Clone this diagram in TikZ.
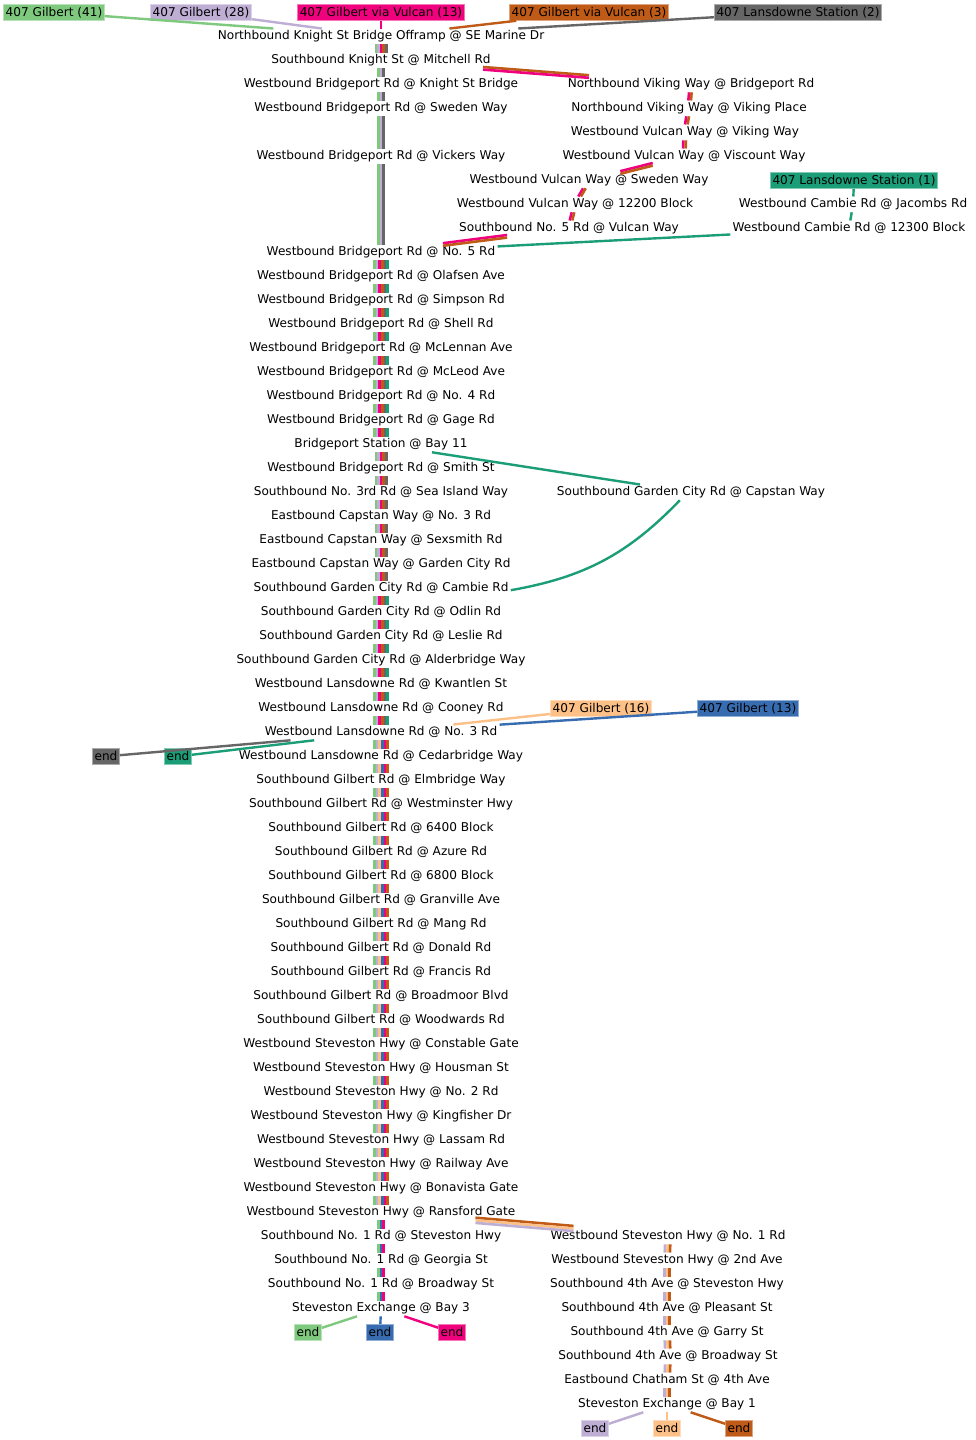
\documentclass[tikz,border=0pt]{standalone}
\usepackage{fontspec}
\setmainfont{DejaVu Sans}
\usepackage{xcolor}
\usepackage{tikz}

\definecolor{gil41}{HTML}{7FC97F}
\definecolor{gil28}{HTML}{BEAED4}
\definecolor{gil16}{HTML}{FDC086}
\definecolor{gil13}{HTML}{386CB0}
\definecolor{vul13}{HTML}{F0027F}
\definecolor{vul3}{HTML}{BF5B17}
\definecolor{lan2}{HTML}{666666}
\definecolor{lan1}{HTML}{1B9E77}

% parallel lines of one bundle, colours given left to right
\newcommand\vbundle[3]{%
  \foreach \c [count=\n] in {#3} {\xdef\bundlen{\n}}%
  \foreach \c [count=\i] in {#3} {%
    \pgfmathsetmacro\off{(\i-(\bundlen+1)/2)*1.3}%
    \draw[bd, color=\c, transform canvas={xshift=\off pt}] (#1) -- (#2);}%
}
% same, colours given top to bottom
\newcommand\hbundle[3]{%
  \foreach \c [count=\n] in {#3} {\xdef\bundlen{\n}}%
  \foreach \c [count=\i] in {#3} {%
    \pgfmathsetmacro\off{((\bundlen+1)/2-\i)*1.3}%
    \draw[bd, color=\c, transform canvas={yshift=\off pt}] (#1) -- (#2);}%
}

\begin{document}
\begin{tikzpicture}[
  x=0.5pt, y=-0.5pt,
  font=\fontsize{6.05pt}{7pt}\selectfont,
  st/.style={inner xsep=1pt, inner ysep=0pt, minimum height=7.5pt, yshift=-0.7pt},
  rt/.style={fill=#1, draw=#1!55, line width=0.4pt, inner xsep=1pt, inner ysep=0pt, minimum height=8pt, yshift=-0.7pt},
  ln/.style={line width=1.2pt},
  bd/.style={line width=1.3pt}
]
  \path[fill=white] (0,0) rectangle (975,1440);

  % route starts
  \node[rt=gil41] (g41) at (54,11) {407 Gilbert (41)};
  \node[rt=gil28] (g28) at (201,11) {407 Gilbert (28)};
  \node[rt=vul13] (v13) at (381,11) {407 Gilbert via Vulcan (13)};
  \node[rt=vul3] (v3) at (589,11) {407 Gilbert via Vulcan (3)};
  \node[rt=lan2] (l2) at (798,11) {407 Lansdowne Station (2)};
  \node[rt=lan1] (l1) at (854,179) {407 Lansdowne Station (1)};
  \node[rt=gil16] (g16) at (601,707) {407 Gilbert (16)};
  \node[rt=gil13] (g13) at (748,707) {407 Gilbert (13)};

  % main column
  \node[st] (offramp) at (381,35) {Northbound Knight St Bridge Offramp @ SE Marine Dr};
  \node[st] (mitchell) at (381,59) {Southbound Knight St @ Mitchell Rd};
  \node[st] (knightbr) at (381,83) {Westbound Bridgeport Rd @ Knight St Bridge};
  \node[st] (sweden) at (381,107) {Westbound Bridgeport Rd @ Sweden Way};
  \node[st] (vickers) at (381,155) {Westbound Bridgeport Rd @ Vickers Way};
  \node[st] (nofive) at (381,251) {Westbound Bridgeport Rd @ No. 5 Rd};
  \node[st] (olafsen) at (381,275) {Westbound Bridgeport Rd @ Olafsen Ave};
  \node[st] (simpson) at (381,299) {Westbound Bridgeport Rd @ Simpson Rd};
  \node[st] (shell) at (381,323) {Westbound Bridgeport Rd @ Shell Rd};
  \node[st] (mclennan) at (381,347) {Westbound Bridgeport Rd @ McLennan Ave};
  \node[st] (mcleod) at (381,371) {Westbound Bridgeport Rd @ McLeod Ave};
  \node[st] (nofour) at (381,395) {Westbound Bridgeport Rd @ No. 4 Rd};
  \node[st] (gage) at (381,419) {Westbound Bridgeport Rd @ Gage Rd};
  \node[st] (bayeleven) at (381,443) {Bridgeport Station @ Bay 11};
  \node[st] (smith) at (381,467) {Westbound Bridgeport Rd @ Smith St};
  \node[st] (seaisland) at (381,491) {Southbound No. 3rd Rd @ Sea Island Way};
  \node[st] (capnothree) at (381,515) {Eastbound Capstan Way @ No. 3 Rd};
  \node[st] (sexsmith) at (381,539) {Eastbound Capstan Way @ Sexsmith Rd};
  \node[st] (capgc) at (381,563) {Eastbound Capstan Way @ Garden City Rd};
  \node[st] (gccambie) at (381,587) {Southbound Garden City Rd @ Cambie Rd};
  \node[st] (odlin) at (381,611) {Southbound Garden City Rd @ Odlin Rd};
  \node[st] (leslie) at (381,635) {Southbound Garden City Rd @ Leslie Rd};
  \node[st] (alderbridge) at (381,659) {Southbound Garden City Rd @ Alderbridge Way};
  \node[st] (kwantlen) at (381,683) {Westbound Lansdowne Rd @ Kwantlen St};
  \node[st] (cooney) at (381,707) {Westbound Lansdowne Rd @ Cooney Rd};
  \node[st] (lansthree) at (381,731) {Westbound Lansdowne Rd @ No. 3 Rd};
  \node[st] (cedarbridge) at (381,755) {Westbound Lansdowne Rd @ Cedarbridge Way};
  \node[st] (elmbridge) at (381,779) {Southbound Gilbert Rd @ Elmbridge Way};
  \node[st] (westminster) at (381,803) {Southbound Gilbert Rd @ Westminster Hwy};
  \node[st] (sixfour) at (381,827) {Southbound Gilbert Rd @ 6400 Block};
  \node[st] (azure) at (381,851) {Southbound Gilbert Rd @ Azure Rd};
  \node[st] (sixeight) at (381,875) {Southbound Gilbert Rd @ 6800 Block};
  \node[st] (granville) at (381,899) {Southbound Gilbert Rd @ Granville Ave};
  \node[st] (mang) at (381,923) {Southbound Gilbert Rd @ Mang Rd};
  \node[st] (donald) at (381,947) {Southbound Gilbert Rd @ Donald Rd};
  \node[st] (francis) at (381,971) {Southbound Gilbert Rd @ Francis Rd};
  \node[st] (broadmoor) at (381,995) {Southbound Gilbert Rd @ Broadmoor Blvd};
  \node[st] (woodwards) at (381,1019) {Southbound Gilbert Rd @ Woodwards Rd};
  \node[st] (constable) at (381,1043) {Westbound Steveston Hwy @ Constable Gate};
  \node[st] (housman) at (381,1067) {Westbound Steveston Hwy @ Housman St};
  \node[st] (notwo) at (381,1091) {Westbound Steveston Hwy @ No. 2 Rd};
  \node[st] (kingfisher) at (381,1115) {Westbound Steveston Hwy @ Kingfisher Dr};
  \node[st] (lassam) at (381,1139) {Westbound Steveston Hwy @ Lassam Rd};
  \node[st] (railway) at (381,1163) {Westbound Steveston Hwy @ Railway Ave};
  \node[st] (bonavista) at (381,1187) {Westbound Steveston Hwy @ Bonavista Gate};
  \node[st] (ransford) at (381,1211) {Westbound Steveston Hwy @ Ransford Gate};
  \node[st] (onesteveston) at (381,1235) {Southbound No. 1 Rd @ Steveston Hwy};
  \node[st] (georgia) at (381,1259) {Southbound No. 1 Rd @ Georgia St};
  \node[st] (onebroadway) at (381,1283) {Southbound No. 1 Rd @ Broadway St};
  \node[st] (baythree) at (381,1307) {Steveston Exchange @ Bay 3};

  % Vulcan Way branch
  \node[st] (vikbridge) at (691,83) {Northbound Viking Way @ Bridgeport Rd};
  \node[st] (vikplace) at (689,107) {Northbound Viking Way @ Viking Place};
  \node[st] (vulviking) at (685,131) {Westbound Vulcan Way @ Viking Way};
  \node[st] (vulviscount) at (684,155) {Westbound Vulcan Way @ Viscount Way};
  \node[st] (vulsweden) at (589,179) {Westbound Vulcan Way @ Sweden Way};
  \node[st] (twelvetwo) at (575,203) {Westbound Vulcan Way @ 12200 Block};
  \node[st] (nofivevulcan) at (569,227) {Southbound No. 5 Rd @ Vulcan Way};

  % Cambie Rd and Capstan
  \node[st] (jacombs) at (853,203) {Westbound Cambie Rd @ Jacombs Rd};
  \node[st] (twelvethree) at (849,227) {Westbound Cambie Rd @ 12300 Block};
  \node[st] (capstan) at (691,491) {Southbound Garden City Rd @ Capstan Way};

  % 4th Ave branch
  \node[st] (wbnoone) at (668,1235) {Westbound Steveston Hwy @ No. 1 Rd};
  \node[st] (secondave) at (667,1259) {Westbound Steveston Hwy @ 2nd Ave};
  \node[st] (fourthsteveston) at (667,1283) {Southbound 4th Ave @ Steveston Hwy};
  \node[st] (pleasant) at (667,1307) {Southbound 4th Ave @ Pleasant St};
  \node[st] (garry) at (667,1331) {Southbound 4th Ave @ Garry St};
  \node[st] (fourthbroadway) at (668,1355) {Southbound 4th Ave @ Broadway St};
  \node[st] (chatham) at (667,1379) {Eastbound Chatham St @ 4th Ave};
  \node[st] (bayone) at (667,1403) {Steveston Exchange @ Bay 1};

  % ends
  \node[rt=lan2] (endgy) at (106,755) {end};
  \node[rt=lan1] (endt) at (178,755) {end};
  \node[rt=gil41] (endg) at (308,1331) {end};
  \node[rt=gil13] (endb) at (380,1331) {end};
  \node[rt=vul13] (endpk) at (452,1331) {end};
  \node[rt=gil28] (endp) at (595,1427) {end};
  \node[rt=gil16] (endo) at (667,1427) {end};
  \node[rt=vul3] (endbr) at (739,1427) {end};

  % single routes
  \draw[ln, gil41] (g41) -- (offramp);
  \draw[ln, gil28] (g28) -- (offramp);
  \draw[ln, vul13] (v13) -- (offramp);
  \draw[ln, vul3] (v3) -- (offramp);
  \draw[ln, lan2] (l2) -- (offramp);
  \draw[ln, lan1] (l1) -- (jacombs);
  \draw[ln, lan1] (jacombs) -- (twelvethree);
  \draw[ln, lan1] (twelvethree) -- (nofive);
  \draw[ln, lan1] (bayeleven) -- (capstan);
  \draw[ln, lan1] (capstan) to[bend left=18] (gccambie);
  \draw[ln, gil16] (g16) -- (lansthree);
  \draw[ln, gil13] (g13) -- (lansthree);
  \draw[ln, lan2] (lansthree) -- (endgy);
  \draw[ln, lan1] (lansthree) -- (endt);
  \draw[ln, gil41] (baythree) -- (endg);
  \draw[ln, gil13] (baythree) -- (endb);
  \draw[ln, vul13] (baythree) -- (endpk);
  \draw[ln, gil28] (bayone) -- (endp);
  \draw[ln, gil16] (bayone) -- (endo);
  \draw[ln, vul3] (bayone) -- (endbr);

  % bundles
  \vbundle{offramp}{mitchell}{gil41,gil28,vul13,vul3,lan2}
  \foreach \a/\b in {mitchell/knightbr, knightbr/sweden, sweden/vickers, vickers/nofive}
    {\vbundle{\a}{\b}{gil41,gil28,lan2}}
  \hbundle{mitchell}{vikbridge}{vul3,vul13}
  \foreach \a/\b in {vikbridge/vikplace, vikplace/vulviking, vulviking/vulviscount,
      vulsweden/twelvetwo, twelvetwo/nofivevulcan}
    {\vbundle{\a}{\b}{vul13,vul3}}
  \hbundle{vulviscount}{vulsweden}{vul13,vul3}
  \hbundle{nofivevulcan}{nofive}{vul13,vul3}
  \foreach \a/\b in {nofive/olafsen, olafsen/simpson, simpson/shell, shell/mclennan,
      mclennan/mcleod, mcleod/nofour, nofour/gage, gage/bayeleven,
      gccambie/odlin, odlin/leslie, leslie/alderbridge, alderbridge/kwantlen,
      kwantlen/cooney, cooney/lansthree}
    {\vbundle{\a}{\b}{gil41,gil28,vul13,vul3,lan2,lan1}}
  \foreach \a/\b in {bayeleven/smith, smith/seaisland, seaisland/capnothree,
      capnothree/sexsmith, sexsmith/capgc, capgc/gccambie}
    {\vbundle{\a}{\b}{gil41,gil28,vul13,vul3,lan2}}
  \foreach \a/\b in {lansthree/cedarbridge, cedarbridge/elmbridge, elmbridge/westminster,
      westminster/sixfour, sixfour/azure, azure/sixeight, sixeight/granville,
      granville/mang, mang/donald, donald/francis, francis/broadmoor,
      broadmoor/woodwards, woodwards/constable, constable/housman, housman/notwo,
      notwo/kingfisher, kingfisher/lassam, lassam/railway, railway/bonavista,
      bonavista/ransford}
    {\vbundle{\a}{\b}{gil41,gil28,gil16,gil13,vul13,vul3}}
  \foreach \a/\b in {ransford/onesteveston, onesteveston/georgia, georgia/onebroadway,
      onebroadway/baythree}
    {\vbundle{\a}{\b}{gil41,gil13,vul13}}
  \hbundle{ransford}{wbnoone}{vul3,gil16,gil28}
  \foreach \a/\b in {wbnoone/secondave, secondave/fourthsteveston, fourthsteveston/pleasant,
      pleasant/garry, garry/fourthbroadway, fourthbroadway/chatham, chatham/bayone}
    {\vbundle{\a}{\b}{gil28,gil16,vul3}}
\end{tikzpicture}
\end{document}
